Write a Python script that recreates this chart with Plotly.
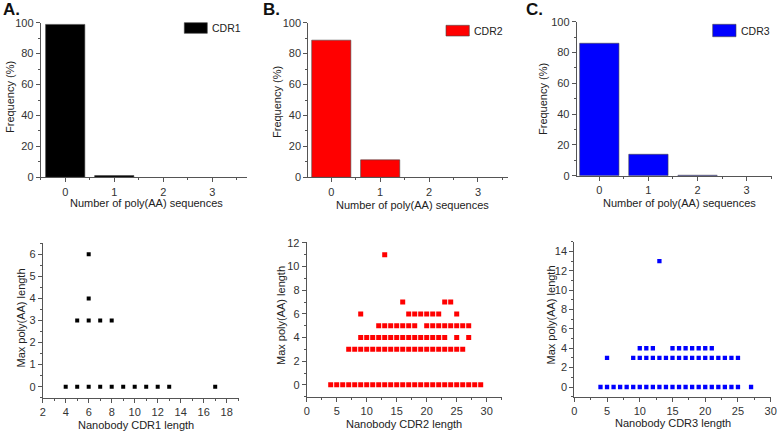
import plotly.graph_objects as go
from plotly.subplots import make_subplots

W, H = 777, 432

# top row: frequency of poly(AA) sequence counts
n_polyaa = [0, 1, 2, 3]
freq_cdr1 = [98.9, 1.1, 0, 0]
freq_cdr2 = [88.7, 11.3, 0, 0]
freq_cdr3 = [86.0, 13.9, 0.3, 0]

# bottom row: CDR length vs max poly(AA) length
cdr1_len = [4, 5, 6, 7, 8, 9, 10, 11, 12, 13, 17, 5, 6, 7, 8, 6, 6]
cdr1_max = [0, 0, 0, 0, 0, 0, 0, 0, 0, 0, 0, 3, 3, 3, 3, 4, 6]

cdr2_len = (list(range(4, 30)) + list(range(7, 27)) + list(range(9, 24)) + [25, 27]
            + list(range(12, 19)) + list(range(20, 28)) + [9] + list(range(17, 23)) + [25]
            + [16, 23, 24] + [13])
cdr2_max = ([0] * 26 + [3] * 20 + [4] * 17 + [5] * 15 + [6] * 8 + [7] * 3 + [11])

cdr3_len = (list(range(4, 26)) + [27] + [5] + list(range(9, 26))
            + [10, 11, 12] + list(range(15, 22)) + [13])
cdr3_max = ([0] * 23 + [3] * 18 + [4] * 10 + [13])

BLACK = "#000000"
RED = "#FF0000"
BLUE = "#0000FF"
AXIS = "#555555"
ARIAL = "Liberation Sans, Arial, sans-serif"
TICKFONT = dict(family=ARIAL, size=11, color="#333333")
TITLEFONT = dict(family=ARIAL, size=11, color="#222222")


def px_x(a, b):
    return [a / W, b / W]


def px_y(top, bottom):
    return [1 - bottom / H, 1 - top / H]


fig = make_subplots(rows=2, cols=3)

top_sets = [(freq_cdr1, BLACK), (freq_cdr2, RED), (freq_cdr3, BLUE)]
for i, (vals, col) in enumerate(top_sets, start=1):
    # no outline on empty bars, so zero counts stay invisible
    edge = [0.6 if v > 0 else 0 for v in vals]
    fig.add_trace(go.Bar(x=n_polyaa, y=vals, width=0.8, marker=dict(color=col, line=dict(color="#444444", width=edge)),
                         showlegend=False), row=1, col=i)

bottom_sets = [(cdr1_len, cdr1_max, BLACK, 4), (cdr2_len, cdr2_max, RED, 5), (cdr3_len, cdr3_max, BLUE, 4.3)]
for i, (xs, ys, col, sz) in enumerate(bottom_sets, start=1):
    fig.add_trace(go.Scatter(x=xs, y=ys, mode="markers", marker=dict(symbol="square", size=sz, color=col, line=dict(width=0)),
                             showlegend=False), row=2, col=i)

axis_common = dict(showline=True, linecolor=AXIS, linewidth=1, ticks="outside", ticklen=4, tickcolor=AXIS,
                   showgrid=False, zeroline=False, tickfont=TICKFONT, automargin=False,
                   minor=dict(ticks="outside", ticklen=2, tickcolor=AXIS))

# top row axes
top_x_dom = [px_x(40.7, 246.7), px_x(308.3, 508.3), px_x(576.7, 771.7)]
top_y_dom = [px_y(22.7, 177.3), px_y(22.7, 177.3), px_y(21.7, 175.7)]
top_x_rng = [[-0.5, 3.7], [-0.47, 3.62], [-0.46, 3.51]]
for i in range(3):
    fig.update_xaxes(axis_common, domain=top_x_dom[i], range=top_x_rng[i], tickvals=n_polyaa,
                     minor=dict(dtick=0.5, tick0=0.5, ticks="outside"), row=1, col=i + 1)
    fig.update_yaxes(axis_common, domain=top_y_dom[i], range=[0, 100], dtick=20, minor=dict(dtick=10),
                     row=1, col=i + 1)

# bottom row axes
bot_x_dom = [px_x(42.7, 239), px_x(306.7, 501.7), px_x(574.3, 770.7)]
bot_y_dom = [px_y(243.3, 397.7), px_y(241.7, 396.7), px_y(241.7, 396.7)]
bot_x_rng = [[2, 19.07], [0, 32.5], [0, 30]]
bot_x_dt = [2, 5, 5]
bot_y_rng = [[-0.5, 6.5], [-1, 12.1], [-1, 15]]
bot_y_dt = [1, 2, 2]
for i in range(3):
    fig.update_xaxes(axis_common, domain=bot_x_dom[i], range=bot_x_rng[i], dtick=bot_x_dt[i], tick0=0,
                     minor=dict(dtick=bot_x_dt[i] / 2), row=2, col=i + 1)
    fig.update_yaxes(axis_common, domain=bot_y_dom[i], range=bot_y_rng[i], dtick=bot_y_dt[i], tick0=0,
                     minor=dict(dtick=bot_y_dt[i] / 2), row=2, col=i + 1)


def add_text(text, x, y, angle=0, font=TITLEFONT, xanchor="center", yanchor="middle"):
    fig.add_annotation(text=text, xref="paper", yref="paper", x=x / W, y=1 - y / H, textangle=angle,
                       xanchor=xanchor, yanchor=yanchor, showarrow=False, font=font)


# axis titles (pixel centres)
for x, y in [(146, 203), (412.5, 204.5), (679.5, 203)]:
    add_text("Number of poly(AA) sequences", x, y)
for x, y in [(10.5, 97.5), (277, 102), (543, 99)]:
    add_text("Frequency (%)", x, y, angle=-90)
for name, x, y in [("Nanobody CDR1 length", 136, 424.5), ("Nanobody CDR2 length", 404, 424),
                   ("Nanobody CDR3 length", 673, 423)]:
    add_text(name, x, y)
for x, y in [(20.5, 318), (280.5, 315.5), (550, 315.5)]:
    add_text("Max poly(AA) length", x, y, angle=-90)

# legend swatches (drawn like the Origin legend boxes)
legends = [("CDR1", BLACK, 184.3, 207.3, 22.7, 33.3), ("CDR2", RED, 446, 469.3, 25.3, 36),
           ("CDR3", BLUE, 712.7, 736, 24.3, 36.7)]
for name, col, x0, x1, y0, y1 in legends:
    fig.add_shape(type="rect", xref="paper", yref="paper", x0=x0 / W, x1=x1 / W, y0=1 - y1 / H, y1=1 - y0 / H,
                  fillcolor=col, line=dict(color="#444444", width=0.6))
    add_text(name, x1 + 2.5, (y0 + y1) / 2, xanchor="left",
             font=dict(family=ARIAL, size=10.5, color="#222222"))

# panel letters
for letter, x in [("A.", 1), ("B.", 261), ("C.", 524)]:
    add_text(f"<b>{letter}</b>", x, -2, xanchor="left", yanchor="top",
             font=dict(family=ARIAL, size=17, color="#111111"))

fig.update_layout(width=W, height=H, margin=dict(l=0, r=0, t=0, b=0),
                  paper_bgcolor="white", plot_bgcolor="white", bargap=0.2)

fig.write_html("out.html", config={"displayModeBar": False},
               post_script="document.body.style.margin='0px';")
